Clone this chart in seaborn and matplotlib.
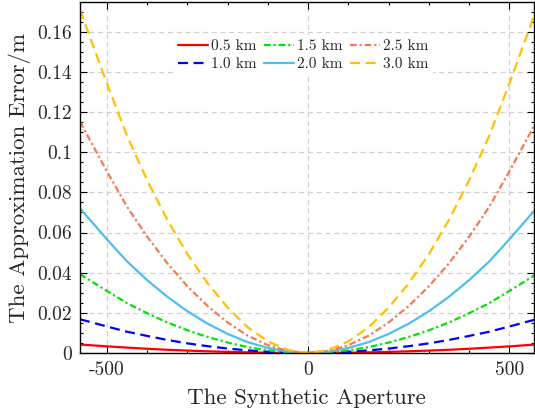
import matplotlib
matplotlib.use("Agg")
import matplotlib.pyplot as plt
import seaborn as sns
import pandas as pd
from matplotlib.ticker import FixedLocator, MultipleLocator

# ---- data ----
aperture = [-567, -550, -500, -450, -400, -350, -300, -250, -200, -150, -100, -50, 0,
            50, 100, 150, 200, 250, 300, 350, 400, 450, 500, 550, 567]

err_05 = [0.0042, 0.0040, 0.0033, 0.0027, 0.0021, 0.0016, 0.0012, 0.00085, 0.00055, 0.00032, 0.00014, 0.00004, 0.0,
          0.00004, 0.00014, 0.00032, 0.00055, 0.00085, 0.0012, 0.0016, 0.0021, 0.0027, 0.0033, 0.0040, 0.0042]
err_10 = [0.0168, 0.0159, 0.0132, 0.0106, 0.0085, 0.0065, 0.0048, 0.0034, 0.0022, 0.0013, 0.0006, 0.00015, 0.0,
          0.00015, 0.0006, 0.0013, 0.0022, 0.0034, 0.0048, 0.0065, 0.0085, 0.0106, 0.0132, 0.0159, 0.0168]
err_15 = [0.0393, 0.0371, 0.0309, 0.0248, 0.0198, 0.0152, 0.0113, 0.0080, 0.0052, 0.0029, 0.0013, 0.00035, 0.0,
          0.00035, 0.0013, 0.0029, 0.0052, 0.0080, 0.0113, 0.0152, 0.0198, 0.0248, 0.0309, 0.0371, 0.0393]
err_20 = [0.0721, 0.0681, 0.0566, 0.0456, 0.0363, 0.0280, 0.0208, 0.0146, 0.0095, 0.0054, 0.0025, 0.00065, 0.0,
          0.00065, 0.0025, 0.0054, 0.0095, 0.0146, 0.0208, 0.0280, 0.0363, 0.0456, 0.0566, 0.0681, 0.0721]
err_25 = [0.1152, 0.1089, 0.0904, 0.0728, 0.0579, 0.0447, 0.0332, 0.0234, 0.0152, 0.0086, 0.0039, 0.0010, 0.0,
          0.0010, 0.0039, 0.0086, 0.0152, 0.0234, 0.0332, 0.0447, 0.0579, 0.0728, 0.0904, 0.1089, 0.1152]
err_30 = [0.171, 0.1616, 0.1342, 0.1081, 0.0860, 0.0663, 0.0492, 0.0347, 0.0226, 0.0128, 0.0058, 0.0015, 0.0,
          0.0015, 0.0058, 0.0128, 0.0226, 0.0347, 0.0492, 0.0663, 0.0860, 0.1081, 0.1342, 0.1616, 0.171]

series_labels = ["0.5 km", "1.0 km", "1.5 km", "2.0 km", "2.5 km", "3.0 km"]
series_values = [err_05, err_10, err_15, err_20, err_25, err_30]

xtick_vals = [-500, 0, 500]
xtick_labels = ["-500", "0", "500"]
ytick_vals = [0, 0.02, 0.04, 0.06, 0.08, 0.1, 0.12, 0.14, 0.16]
ytick_labels = ["0", "0.02", "0.04", "0.06", "0.08", "0.1", "0.12", "0.14", "0.16"]

# ---- styles ----
colors = ["#ff0000", "#0000ff", "#00e400", "#4dbeee", "#f47a50", "#ffc000"]
styles = ["-", (0, (4.5, 2.5)), (0, (3, 1.3, 1, 1.3)), "-", (0, (3, 1.3, 1, 1.3)), (0, (4.5, 2.5))]

sns.set_theme(style="white")
plt.rcParams["font.family"] = ["cmr10", "DejaVu Serif"]
plt.rcParams["axes.unicode_minus"] = False
plt.rcParams["mathtext.fontset"] = "cm"

fig = plt.figure(figsize=(5.35, 4.15), dpi=100)
ax = fig.add_axes([80 / 535, 62 / 415, 453.5 / 535, 351 / 415])

for lab, vals, c, ls in zip(series_labels, series_values, colors, styles):
    df = pd.DataFrame({"x": aperture, "y": vals})
    sns.lineplot(data=df, x="x", y="y", ax=ax, color=c, linewidth=1.6,
                 linestyle=ls, label=lab, sort=False, legend=False)

ax.set_xlim(-567, 560)
ax.set_ylim(0, 0.1748)

ax.xaxis.set_major_locator(FixedLocator(xtick_vals))
ax.set_xticklabels(xtick_labels)
ax.xaxis.set_minor_locator(MultipleLocator(100))
ax.yaxis.set_major_locator(FixedLocator(ytick_vals))
ax.set_yticklabels(ytick_labels)
ax.yaxis.set_minor_locator(MultipleLocator(0.005))

ax.tick_params(which="both", direction="in", top=True, right=True,
               bottom=True, left=True, color="black", width=0.8)
ax.tick_params(which="major", length=5, labelsize=14, pad=6)
ax.tick_params(which="minor", length=2.5)

ax.grid(True, which="major", linestyle=(0, (4, 3)), color="#d0d0d0", linewidth=0.9)
ax.set_axisbelow(True)
for s in ax.spines.values():
    s.set_color("black")
    s.set_linewidth(1.0)

ax.set_xlabel("The Synthetic Aperture", fontsize=16.5, labelpad=7)
ax.set_ylabel("The Approximation Error/m", fontsize=16.5, labelpad=4)

handles = ax.get_lines()[:6]
leg = ax.legend(handles=handles, labels=series_labels, ncol=3, loc="upper left",
                bbox_to_anchor=(0.205, 0.907), fontsize=11, frameon=True,
                facecolor="white", edgecolor="none", framealpha=1.0, fancybox=False,
                borderpad=0.3, handlelength=2.0, handletextpad=0.2,
                columnspacing=0.45, labelspacing=0.3, borderaxespad=0)

fig.savefig("out.png", dpi=100)
